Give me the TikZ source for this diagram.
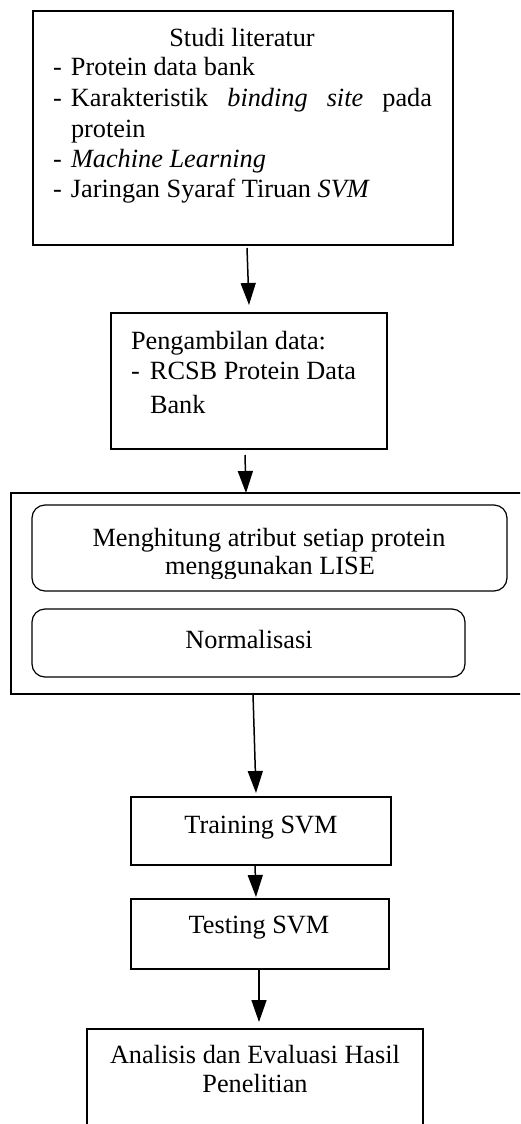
\documentclass[tikz,border=0pt]{standalone}
\usepackage{fontspec}
\setmainfont{Liberation Serif}
\usetikzlibrary{arrows.meta,calc}
\begin{document}
\begin{tikzpicture}[x=1pt,y=-1pt,
  every node/.style={inner sep=0pt,outer sep=0pt,font=\fontsize{26.3}{30}\selectfont},
  box/.style={draw,line width=1.2pt,rectangle,anchor=north west},
  rbox/.style={draw,line width=1.2pt,rectangle,rounded corners=13pt,anchor=north west},
  arr/.style={line width=1.5pt,-{Triangle[length=22pt,width=15pt]}},
  txt/.style={anchor=base},
  ltxt/.style={anchor=base west}]
\useasboundingbox (0,0) rectangle (520,1124);
\clip (0,0) rectangle (520,1124);
% boxes
\node[box,minimum width=420pt,minimum height=234pt] (lit) at (33,11) {};
\node[box,minimum width=276pt,minimum height=136pt] (pd) at (111,313) {};
\node[box,minimum width=515pt,minimum height=201pt] (pre) at (11,493) {};
\node[rbox,minimum width=475pt,minimum height=86pt] (hit) at (32,505) {};
\node[rbox,minimum width=433pt,minimum height=68pt] (norm) at (32,609) {};
\node[box,minimum width=260pt,minimum height=68pt] (train) at (131,797) {};
\node[box,minimum width=258pt,minimum height=70pt] (test) at (131,899) {};
\node[box,minimum width=336pt,minimum height=130pt] (anal) at (87,1029) {};
% texts box 1
\node[txt] (t1) at (242,46.7) {Studi literatur};
\node[ltxt] (t2) at (53,76) {\makebox[18pt][l]{-}Protein data bank};
\node[ltxt] (t3) at (53,106) {\makebox[18pt][l]{-}\makebox[361pt][s]{Karakteristik \textit{binding} \textit{site} pada}};
\node[ltxt] (t4) at (71,137) {protein};
\node[ltxt] (t5) at (53,167) {\makebox[18pt][l]{-}\textit{Machine Learning}};
\node[ltxt] (t6) at (53,197) {\makebox[18pt][l]{-}Jaringan Syaraf Tiruan \textit{SVM}};
% texts box 2
\node[ltxt] (p1) at (131,349) {Pengambilan data:};
\node[ltxt] (p2) at (131,379) {\makebox[19pt][l]{-}RCSB Protein Data};
\node[ltxt] (p3) at (150,413) {Bank};
% inner texts
\node[txt] (h1) at (269,546) {Menghitung atribut setiap protein};
\begin{scope}
\clip (32,555) rectangle (507,578.5);
\node[txt] (h2) at (270,574) {menggunakan LISE};
\end{scope}
\node[txt] (n1) at (249,648) {Normalisasi};
\node[txt] (tr1) at (261,833) {Training SVM};
\node[txt] (te1) at (259,933) {Testing SVM};
\node[txt] (a1) at (255,1063) {Analisis dan Evaluasi Hasil};
\node[txt] (a2) at (255,1092) {Penelitian};
% arrows
\draw[arr] ($(lit.south)+(4,3)$) -- ($(pd.north)+(0,-8)$);
\draw[arr] ($(pd.south)+(-4,6)$) -- ($(pre.north west)+(235,0)$);
\draw[arr] ($(pre.south west)+(242,0)$) -- ($(train.north)+(-5,-4)$);
\draw[arr] ($(train.south)+(-6,0)$) -- ($(test.north)+(-4,-2)$);
\draw[arr] ($(test.south)+(-1,0)$) -- ($(anal.north)+(4,-7)$);
\end{tikzpicture}
\end{document}
